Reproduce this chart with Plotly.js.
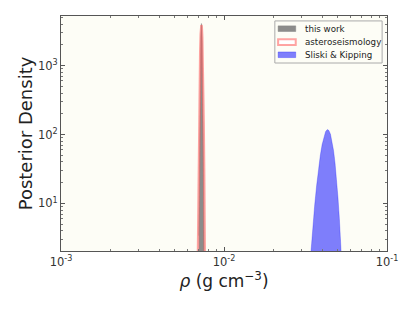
<!DOCTYPE html>
<html>
<head>
<meta charset="utf-8">
<script src="https://cdn.plot.ly/plotly-3.0.1.min.js"></script>
<style>html,body{margin:0;padding:0;background:#fff;}#plot{width:415px;height:312px;}</style>
</head>
<body>
<div id="plot"></div>
<script>
// this work (gray)
const workRho = [0.00700, 0.00705, 0.00710, 0.00715, 0.00720, 0.00725, 0.00727, 0.00730, 0.00735, 0.00740, 0.00745, 0.00750, 0.00755];
const workDens = [3.4, 37, 246, 1010, 2546, 3944, 4100, 3756, 2200, 792, 175, 24, 2.0];
// asteroseismology (red outline)
const astRho = [0.00690, 0.00695, 0.00700, 0.00705, 0.00710, 0.00715, 0.00720, 0.00725, 0.00727, 0.00730, 0.00735, 0.00740, 0.00745, 0.00750, 0.00755, 0.00760, 0.00765];
const astDens = [0.83, 7.0, 43, 197, 655, 1603, 2883, 3805, 3900, 3690, 2627, 1374, 528, 149, 31, 4.7, 0.53];
// Sliski & Kipping (blue)
const skRho = [0.033, 0.034, 0.035, 0.036, 0.037, 0.038, 0.039, 0.040, 0.041, 0.042, 0.043, 0.044, 0.045, 0.046, 0.047, 0.048, 0.049, 0.050, 0.051, 0.052, 0.053];
const skDens = [0.7, 1.89, 4.43, 9.39, 18.05, 31.5, 49.9, 71.6, 93.2, 110, 117.8, 114.4, 100.8, 80.5, 58.3, 38.3, 22.8, 12.3, 6.05, 2.69, 1.09];

const seriesNames = ['this work', 'asteroseismology', 'Sliski & Kipping'];
const xTickVals = [0.001, 0.01, 0.1];
const xTickText = ['10<sup>-3</sup>', '10<sup>-2</sup>', '10<sup>-1</sup>'];
const yTickVals = [10, 100, 1000];
const yTickText = ['10<sup>1</sup>', '10<sup>2</sup>', '10<sup>3</sup>'];
const xMinor = [0.002,0.003,0.004,0.005,0.006,0.007,0.008,0.009,0.02,0.03,0.04,0.05,0.06,0.07,0.08,0.09];
const yMinor = [3,4,5,6,7,8,9,20,30,40,50,60,70,80,90,200,300,400,500,600,700,800,900,2000,3000,4000,5000];

const grayC = 'rgba(128,128,128,0.9)';
const redC = 'rgba(255,90,90,0.55)';
const blueC = 'rgba(0,0,255,0.5)';

const traces = [
  {x: workRho, y: workDens, name: seriesNames[0], type: 'scatter', mode: 'lines',
   fill: 'tozeroy', fillcolor: grayC, line: {color: grayC, width: 0.5}},
  {x: astRho, y: astDens, name: seriesNames[1], type: 'scatter', mode: 'lines',
   line: {color: redC, width: 2.5}},
  {x: skRho, y: skDens, name: seriesNames[2], type: 'scatter', mode: 'lines',
   line: {color: blueC, width: 0.5}, fill: 'tozeroy', fillcolor: blueC}
];

const axisCommon = {
  showline: true, linecolor: '#555', linewidth: 1, mirror: 'ticks',
  ticks: 'inside', ticklen: 4, tickcolor: '#555', showgrid: false, zeroline: false,
  tickfont: {family: 'DejaVu Sans', size: 11.5, color: '#333'}, tickmode: 'array'
};

// custom legend (paper coords of plot area)
const legRows = [0.946, 0.889, 0.835];
const symColors = [[grayC, grayC], ['#ffffff', redC], [blueC, blueC]];
const shapes = [{type: 'rect', xref: 'paper', yref: 'paper', x0: 0.656, x1: 0.985, y0: 0.80, y1: 0.979,
  line: {color: '#aaa', width: 1}, fillcolor: 'rgba(253,253,246,0.95)'}];
const annotations = [];
seriesNames.forEach((n, i) => {
  shapes.push({type: 'rect', xref: 'paper', yref: 'paper', x0: 0.666, x1: 0.72,
    y0: legRows[i] - 0.012, y1: legRows[i] + 0.012,
    fillcolor: symColors[i][0], line: {color: symColors[i][1], width: i === 1 ? 2 : 0.5}});
  annotations.push({xref: 'paper', yref: 'paper', x: 0.742, y: legRows[i], xanchor: 'left', yanchor: 'middle',
    text: n, showarrow: false, font: {family: 'DejaVu Sans', size: 8.7, color: '#222'}});
});

const layout = {
  width: 415, height: 312,
  margin: {l: 61, r: 28, t: 16, b: 61},
  paper_bgcolor: '#ffffff', plot_bgcolor: '#fdfdf6',
  showlegend: false,
  shapes: shapes, annotations: annotations,
  xaxis: Object.assign({}, axisCommon, {type: 'log', range: [-3, -1], tickvals: xTickVals, ticktext: xTickText,
    minor: {tickmode: 'array', tickvals: xMinor, ticks: 'inside', ticklen: 2, tickcolor: '#777', showgrid: false},
    title: {text: '<i>ρ</i> (g cm<sup>−3</sup>)', font: {family: 'DejaVu Sans', size: 17, color: '#222'}, standoff: 0}}),
  yaxis: Object.assign({}, axisCommon, {type: 'log', range: [Math.log10(2.03), Math.log10(5270)], tickvals: yTickVals, ticktext: yTickText,
    minor: {tickmode: 'array', tickvals: yMinor, ticks: 'inside', ticklen: 2, tickcolor: '#777', showgrid: false},
    title: {text: 'Posterior Density', font: {family: 'DejaVu Sans', size: 18, color: '#222'}, standoff: 0}})
};

Plotly.newPlot('plot', traces, layout, {displayModeBar: false, staticPlot: true});
</script>
</body>
</html>
